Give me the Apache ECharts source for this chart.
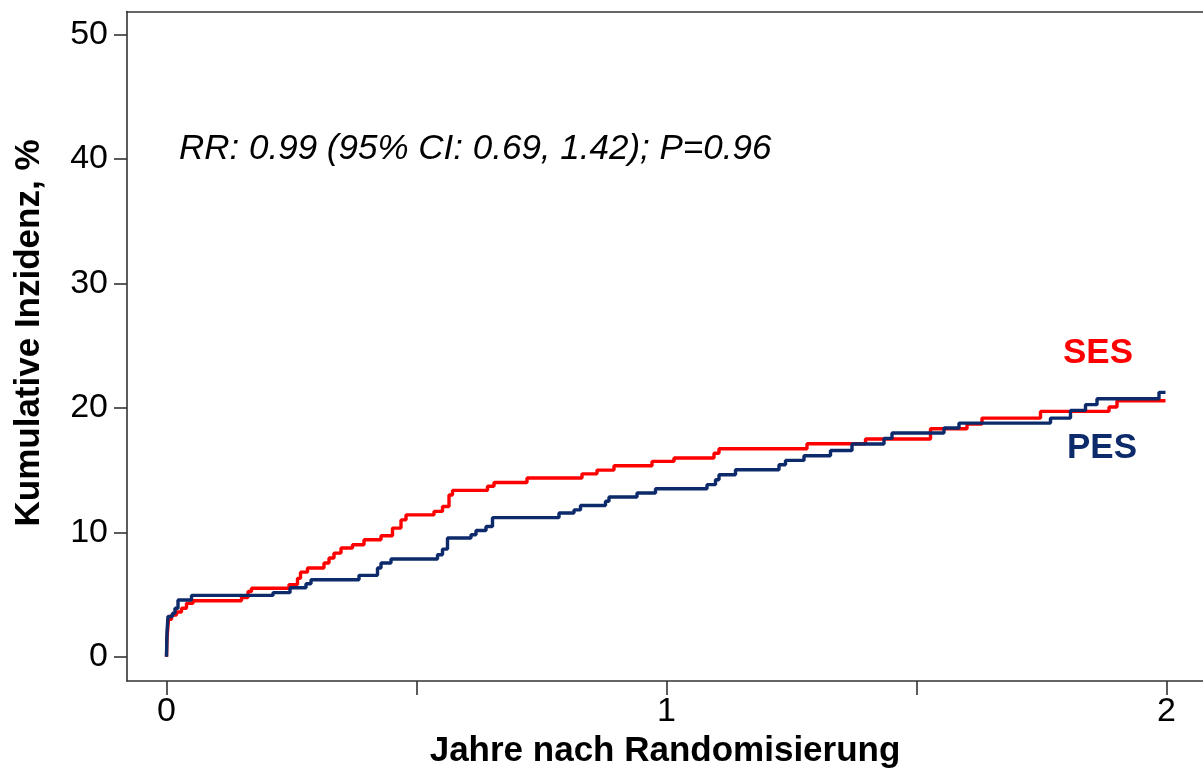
<!DOCTYPE html>
<html>
<head>
<meta charset="utf-8">
<script src="https://cdn.jsdelivr.net/npm/echarts@6/dist/echarts.min.js"></script>
<style>
html,body{margin:0;padding:0;background:#fff;}
#chart{width:1203px;height:770px;}
</style>
</head>
<body>
<div id="chart"></div>
<script>
// SES (red) cumulative incidence, %
var sesTimes = [0, 0.001, 0.004, 0.01, 0.02, 0.03, 0.04, 0.053, 0.15, 0.163, 0.17, 0.245, 0.262, 0.268, 0.282, 0.315, 0.325, 0.335, 0.349, 0.372, 0.395, 0.429, 0.452, 0.469, 0.479, 0.535, 0.552, 0.565, 0.572, 0.642, 0.655, 0.721, 0.831, 0.861, 0.895, 0.971, 1.015, 1.095, 1.105, 1.281, 1.398, 1.528, 1.601, 1.631, 1.748, 1.885, 1.901, 1.998];
var sesValues = [0, 1.5, 3.0, 3.35, 3.6, 3.9, 4.3, 4.5, 4.76, 5.24, 5.5, 5.8, 6.3, 6.8, 7.13, 7.53, 7.93, 8.33, 8.74, 9.0, 9.4, 9.73, 10.34, 11.0, 11.4, 11.68, 12.08, 13.0, 13.37, 13.7, 14.0, 14.36, 14.7, 15.0, 15.35, 15.7, 15.97, 16.35, 16.72, 17.12, 17.5, 18.33, 18.7, 19.18, 19.72, 20.07, 20.58, 20.58];
// PES (navy) cumulative incidence, %
var pesTimes = [0, 0.001, 0.003, 0.012, 0.017, 0.023, 0.05, 0.213, 0.247, 0.279, 0.289, 0.385, 0.422, 0.429, 0.449, 0.542, 0.552, 0.562, 0.609, 0.619, 0.639, 0.652, 0.785, 0.815, 0.828, 0.878, 0.885, 0.941, 0.978, 1.081, 1.098, 1.105, 1.138, 1.225, 1.238, 1.275, 1.328, 1.371, 1.435, 1.451, 1.555, 1.585, 1.768, 1.808, 1.838, 1.861, 1.985, 1.998];
var pesValues = [0, 2.0, 3.24, 3.5, 3.9, 4.56, 4.93, 5.15, 5.55, 5.87, 6.19, 6.54, 7.13, 7.53, 7.85, 8.2, 8.65, 9.54, 9.8, 10.15, 10.47, 11.18, 11.55, 11.8, 12.16, 12.5, 12.84, 13.16, 13.5, 13.83, 14.23, 14.63, 15.03, 15.43, 15.78, 16.16, 16.58, 17.1, 17.55, 17.98, 18.38, 18.78, 19.18, 19.8, 20.26, 20.74, 21.25, 21.25];

var xTicks = [0, 0.5, 1, 1.5, 2];
var xTickLabels = [0, 1, 2];
var yTicks = [0, 10, 20, 30, 40, 50];

var seriesNames = ['SES', 'PES'];
var annotation = 'RR: 0.99 (95% CI: 0.69, 1.42); P=0.96';
var xTitle = 'Jahre nach Randomisierung';
var yTitle = 'Kumulative Inzidenz, %';

function pairs(t, v) { return t.map(function (x, i) { return [x, v[i]]; }); }

var FONT = '"Liberation Sans", Arial, sans-serif';
var AX = '#333333';
var RED = '#ff0000';
var NAVY = '#0d2a6b';

var chart = echarts.init(document.getElementById('chart'), null, {renderer: 'canvas'});
chart.setOption({
  animation: false,
  backgroundColor: '#ffffff',
  grid: {left: 127, right: 0, top: 11.5, bottom: 89, containLabel: false, outerBoundsMode: 'none'},
  xAxis: [{
    type: 'value', min: -0.079, max: 2.073, position: 'bottom',
    name: xTitle, nameLocation: 'middle', nameGap: 52,
    nameTextStyle: {fontFamily: FONT, fontWeight: 'bold', fontSize: 35, color: '#000'},
    axisLine: {show: true, onZero: false, lineStyle: {color: AX, width: 1.6}},
    axisTick: {show: true, inside: false, length: 14, customValues: xTicks, lineStyle: {color: AX, width: 1.6}},
    axisLabel: {show: true, margin: 14, customValues: xTickLabels, fontFamily: FONT, fontSize: 34, color: '#000'},
    splitLine: {show: false}
  }, {
    type: 'value', min: -0.079, max: 2.073, position: 'top',
    axisLine: {show: true, onZero: false, lineStyle: {color: AX, width: 1.6}},
    axisTick: {show: false}, axisLabel: {show: false}, splitLine: {show: false}
  }],
  yAxis: {
    type: 'value', min: -1.95, max: 51.86,
    axisLine: {show: true, onZero: false, lineStyle: {color: AX, width: 1.6}},
    axisTick: {show: true, inside: false, length: 13, customValues: yTicks, lineStyle: {color: AX, width: 1.6}},
    axisLabel: {show: true, margin: 19, customValues: yTicks, fontFamily: FONT, fontSize: 34, color: '#000'},
    splitLine: {show: false}
  },
  series: [{
    name: seriesNames[0], type: 'line', step: 'end', showSymbol: false, symbol: 'none',
    data: pairs(sesTimes, sesValues),
    lineStyle: {color: RED, width: 3.4}, z: 2
  }, {
    name: seriesNames[1], type: 'line', step: 'end', showSymbol: false, symbol: 'none',
    data: pairs(pesTimes, pesValues),
    lineStyle: {color: NAVY, width: 3.4}, z: 3
  }],
  graphic: [{
    type: 'text', x: 29, y: 333, rotation: Math.PI / 2,
    style: {text: yTitle, fontFamily: FONT, fontWeight: 'bold', fontSize: 35, fill: '#000', align: 'center', verticalAlign: 'middle'}
  }, {
    type: 'text', left: 179, top: 132,
    style: {text: annotation, fontFamily: FONT, fontStyle: 'italic', fontSize: 35, fill: '#000'}
  }, {
    type: 'text', left: 1063, top: 336,
    style: {text: seriesNames[0], fontFamily: FONT, fontWeight: 'bold', fontSize: 35, fill: RED}
  }, {
    type: 'text', left: 1067, top: 431,
    style: {text: seriesNames[1], fontFamily: FONT, fontWeight: 'bold', fontSize: 35, fill: NAVY}
  }]
});
</script>
</body>
</html>
